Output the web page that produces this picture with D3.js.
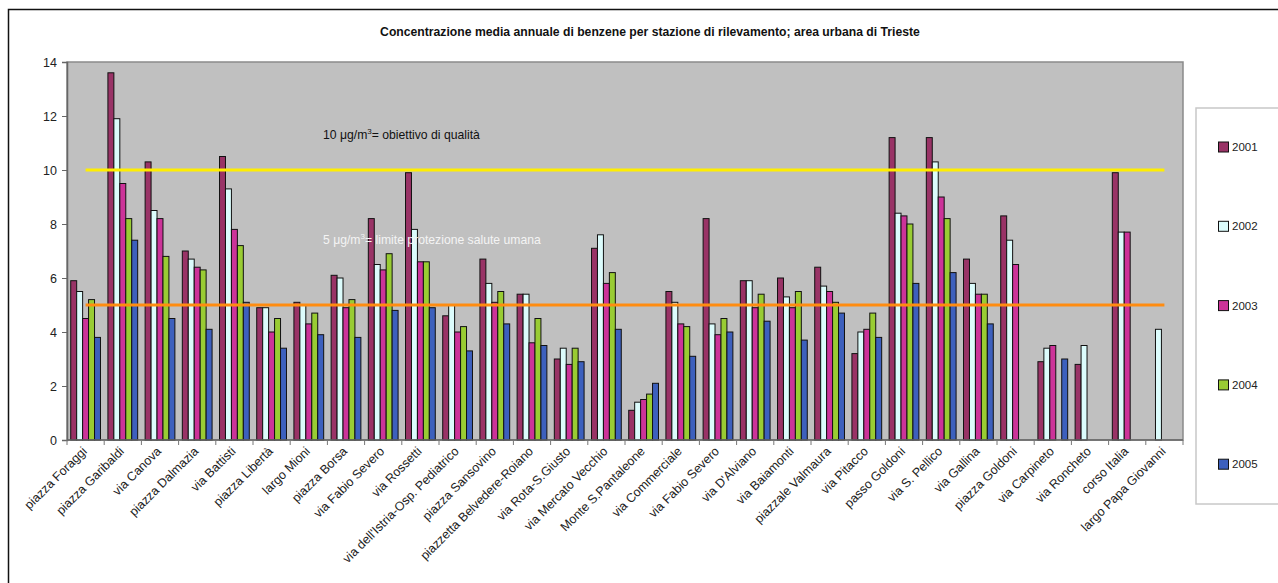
<!DOCTYPE html>
<html><head><meta charset="utf-8">
<script src="https://cdn.jsdelivr.net/npm/d3@7"></script>
<style>
body{margin:0;background:#fff;}
svg{display:block;font-family:"Liberation Sans",Arial,sans-serif;}
</style></head>
<body><svg id="c" width="1278" height="583"></svg>
<script>
const categories = ["piazza Foraggi","piazza Garibaldi","via Canova","piazza Dalmazia","via Battisti","piazza Libertà","largo Mioni","piazza Borsa","via Fabio Severo","via Rossetti","via dell'Istria-Osp. Pediatrico","piazza Sansovino","piazzetta Belvedere-Roiano","via Rota-S.Giusto","via Mercato Vecchio","Monte S.Pantaleone","via Commerciale","via Fabio Severo","via D'Alviano","via Baiamonti","piazzale Valmaura","via Pitacco","passo Goldoni","via S. Pellico","via Gallina","piazza Goldoni","via Carpineto","via Roncheto","corso Italia","largo Papa Giovanni"];
const years = ["2001","2002","2003","2004","2005"];
const v2001 = [5.9,13.6,10.3,7.0,10.5,4.9,5.1,6.1,8.2,9.9,4.6,6.7,5.4,3.0,7.1,1.1,5.5,8.2,5.9,6.0,6.4,3.2,11.2,11.2,6.7,8.3,2.9,2.8,9.9,null];
const v2002 = [5.5,11.9,8.5,6.7,9.3,4.9,5.0,6.0,6.5,7.8,5.0,5.8,5.4,3.4,7.6,1.4,5.1,4.3,5.9,5.3,5.7,4.0,8.4,10.3,5.8,7.4,3.4,3.5,7.7,4.1];
const v2003 = [4.5,9.5,8.2,6.4,7.8,4.0,4.3,4.9,6.3,6.6,4.0,5.1,3.6,2.8,5.8,1.5,4.3,3.9,4.9,4.9,5.5,4.1,8.3,9.0,5.4,6.5,3.5,null,7.7,null];
const v2004 = [5.2,8.2,6.8,6.3,7.2,4.5,4.7,5.2,6.9,6.6,4.2,5.5,4.5,3.4,6.2,1.7,4.2,4.5,5.4,5.5,5.1,4.7,8.0,8.2,5.4,null,null,null,null,null];
const v2005 = [3.8,7.4,4.5,4.1,5.1,3.4,3.9,3.8,4.8,4.9,3.3,4.3,3.5,2.9,4.1,2.1,3.1,4.0,4.4,3.7,4.7,3.8,5.8,6.2,4.3,null,3.0,null,null,null];
const yTicks = [0,2,4,6,8,10,12,14];
const limits = [10,5];
const limitLabels = ["obiettivo di qualità","limite protezione salute umana"];
const colors = ["#993366","#dcfcfc","#cc3399","#99cc33","#3d60bd"];
const titleText = "Concentrazione media annuale di benzene per stazione di rilevamento; area urbana di Trieste";

const series = [v2001,v2002,v2003,v2004,v2005];
const svg = d3.select("#c");
const M = {l:67, r:1183, t:62, b:440};

svg.append("rect").attr("x",8.5).attr("y",9.5).attr("width",1400).attr("height",700)
  .attr("fill","none").attr("stroke","#111").attr("stroke-width",1.5);

svg.append("text").attr("x",650).attr("y",36).attr("text-anchor","middle")
  .attr("font-size",12.2).attr("font-weight","bold").attr("fill","#111").text(titleText);

const x = d3.scaleBand().domain(d3.range(categories.length)).range([M.l,M.r]).paddingInner(0.2).paddingOuter(0.1);
const y = d3.scaleLinear().domain([0,14]).range([M.b,M.t]);
const xs = d3.scaleBand().domain(years).range([0,x.bandwidth()]);

svg.append("rect").attr("x",M.l).attr("y",M.t).attr("width",M.r-M.l).attr("height",M.b-M.t)
  .attr("fill","#c0c0c0").attr("stroke","#8a8a8a").attr("stroke-width",1.5);

const ya = svg.append("g").attr("transform",`translate(${M.l},0)`)
  .call(d3.axisLeft(y).tickValues(yTicks).tickSize(5).tickPadding(5).tickFormat(d3.format("d")));
ya.select(".domain").attr("stroke","#666").attr("stroke-width",1.5);
ya.selectAll(".tick line").attr("stroke","#666");
ya.selectAll("text").attr("font-size",12.5).attr("fill","#222").attr("font-family","Liberation Sans, Arial, sans-serif");

const g = svg.append("g");
categories.forEach((c,i)=>{
  series.forEach((s,k)=>{
    const v = s[i];
    if (v==null) return;
    g.append("rect").attr("x",x(i)+xs(years[k])).attr("y",y(v))
      .attr("width",xs.bandwidth()).attr("height",y(0)-y(v))
      .attr("fill",colors[k]).attr("stroke","#111").attr("stroke-width",1);
  });
});

const step = x.step();
svg.append("line").attr("x1",M.l).attr("x2",M.r).attr("y1",M.b).attr("y2",M.b).attr("stroke","#666").attr("stroke-width",1.5);
d3.range(categories.length+1).forEach(i=>{
  const xx = M.l + i*step;
  svg.append("line").attr("x1",xx).attr("x2",xx).attr("y1",M.b).attr("y2",M.b+5).attr("stroke","#777");
});
categories.forEach((c,i)=>{
  const cx = x(i)+x.bandwidth()/2;
  svg.append("text").attr("transform",`translate(${cx+2},${M.b+12}) rotate(-45)`)
    .attr("text-anchor","end").attr("font-size",12.5).attr("fill","#222").text(c);
});

const x0 = x(0)+x.bandwidth()/2, x1 = x(categories.length-1)+x.bandwidth()/2;
svg.append("line").attr("x1",x0).attr("x2",x1).attr("y1",y(limits[0])).attr("y2",y(limits[0]))
  .attr("stroke","#ffee00").attr("stroke-width",3);
svg.append("line").attr("x1",x0).attr("x2",x1).attr("y1",y(limits[1])).attr("y2",y(limits[1]))
  .attr("stroke","#ff8c10").attr("stroke-width",3);

function limLabel(val, txt, yy, col){
  const t = svg.append("text").attr("x",323).attr("y",yy).attr("font-size",12.2).attr("fill",col);
  t.append("tspan").text(val+" μg/m");
  t.append("tspan").attr("dy",-5).attr("font-size",8).text("3");
  t.append("tspan").attr("dy",5).text("= "+txt);
}
limLabel(limits[0], limitLabels[0], 139, "#111");
limLabel(limits[1], limitLabels[1], 244, "#f4f4f4");

svg.append("rect").attr("x",1196).attr("y",108).attr("width",120).attr("height",396)
  .attr("fill","#fff").attr("stroke","#c8c8c8").attr("stroke-width",1.5);
years.forEach((yr,k)=>{
  const cy = 147 + k*79.3;
  svg.append("rect").attr("x",1218.5).attr("y",cy-5).attr("width",10).attr("height",10)
    .attr("fill",colors[k]).attr("stroke","#111");
  svg.append("text").attr("x",1232).attr("y",cy+4).attr("font-size",11.5).attr("fill","#222").text(yr);
});
</script></body></html>
